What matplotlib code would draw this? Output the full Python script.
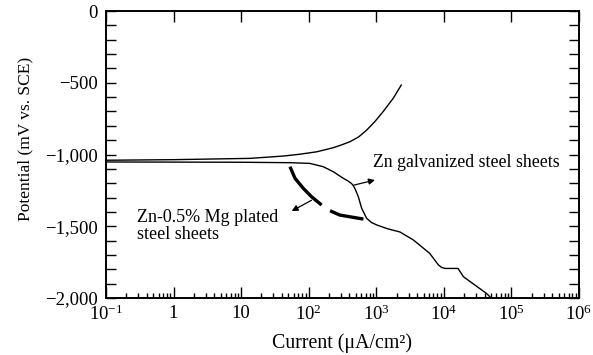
import matplotlib
matplotlib.use("Agg")
import matplotlib.pyplot as plt
from matplotlib.ticker import LogLocator, MultipleLocator, FixedLocator, NullFormatter
import numpy as np

plt.rcParams['font.family'] = ['Liberation Serif', 'DejaVu Serif']
plt.rcParams['mathtext.fontset'] = 'custom'
plt.rcParams['mathtext.rm'] = 'Liberation Serif'
plt.rcParams['mathtext.it'] = 'Liberation Serif:italic'

# Zn galvanized steel sheets - anodic branch (current in uA/cm2, potential in mV vs SCE)
galv_anodic_current = [0.1, 1, 3.2, 13.5, 41.7, 74.1, 132, 229, 302, 407, 550, 724, 955,
                       1259, 1514, 1778, 2344]
galv_anodic_potential = [-1040, -1036, -1032, -1027, -1011, -998, -981, -953, -934, -911,
                         -877, -829, -770, -702, -652, -609, -516]

# Zn galvanized steel sheets - cathodic branch
galv_cath_current = [0.1, 10, 52.8, 104, 164, 231, 325, 380, 432, 458, 484, 542, 608, 721,
                     850, 1014, 1480, 2240, 3550, 6170, 8320, 9330, 10500, 16200, 19500,
                     42700, 47900]
galv_cath_potential = [-1052, -1054, -1057, -1062, -1085, -1120, -1166, -1184, -1203, -1218,
                       -1238, -1294, -1375, -1445, -1474, -1491, -1518, -1540, -1596, -1689,
                       -1770, -1788, -1794, -1794, -1852, -1968, -1991]

# Zn-0.5% Mg plated steel sheets - cathodic branch (two segments)
mg_seg1_current = [52.8, 62.7, 83.2, 110, 155]
mg_seg1_potential = [-1085, -1166, -1236, -1294, -1352]
mg_seg2_current = [207, 288, 646]
mg_seg2_potential = [-1392, -1422, -1450]

xtick_values = [0.1, 1, 10, 100, 1000, 1e4, 1e5, 1e6]
xtick_labels = [r'$\mathrm{10^{-1}}$', '1', '10', r'$\mathrm{10^{2}}$', r'$\mathrm{10^{3}}$',
                r'$\mathrm{10^{4}}$', r'$\mathrm{10^{5}}$', r'$\mathrm{10^{6}}$']
ytick_values = [0, -500, -1000, -1500, -2000]
ytick_labels = ['0', '\u2212500', '\u22121,000', '\u22121,500', '\u22122,000']

fig = plt.figure(figsize=(5.93, 3.55), dpi=100)
ax = fig.add_axes([106/593, 1-298/355, 473/593, 287/355])

ax.plot(galv_anodic_current, galv_anodic_potential, color='black', lw=1.0)
ax.plot(galv_cath_current, galv_cath_potential, color='black', lw=1.0)
ax.plot(mg_seg1_current, mg_seg1_potential, color='black', lw=2.4, solid_capstyle='butt')
ax.plot(mg_seg2_current, mg_seg2_potential, color='black', lw=2.4, solid_capstyle='butt')

ax.set_xscale('log')
ax.set_xlim(0.1, 1e6)
ax.set_ylim(-2000, 0)

ax.xaxis.set_major_locator(FixedLocator(xtick_values))
ax.set_xticklabels(xtick_labels)
ax.xaxis.set_minor_locator(LogLocator(base=10, subs=np.arange(2, 10)))
ax.xaxis.set_minor_formatter(NullFormatter())
ax.yaxis.set_major_locator(FixedLocator(ytick_values))
ax.set_yticklabels(ytick_labels)
ax.yaxis.set_minor_locator(MultipleLocator(100))

ax.tick_params(axis='both', which='both', direction='in', labelsize=13.5, width=1.0)
ax.tick_params(axis='x', which='major', length=8, pad=5, top=True)
ax.tick_params(axis='x', which='minor', length=3.5, top=False)
ax.tick_params(axis='y', which='major', length=7, pad=6, right=True)
ax.tick_params(axis='y', which='minor', length=7, right=True)
for s in ax.spines.values():
    s.set_linewidth(1.4)

ax.set_xlabel('Current (\u03bcA/cm\u00b2)', fontsize=14.3)
ax.xaxis.set_label_coords((342.5 - 106) / 473, (298 - 343) / 287)
ax.set_ylabel('Potential (mV vs. SCE)', fontsize=12.5)
ax.yaxis.set_label_coords((25 - 106) / 473, (298 - 139) / 287)
ax.xaxis.label.set_va('center')
ax.yaxis.label.set_va('center')

ax.text(891, -1059, 'Zn galvanized steel sheets', fontsize=12.8, va='center', ha='left')
ax.text(0.29, -1499, 'Zn-0.5% Mg plated\nsteel sheets', fontsize=13, va='center', ha='left',
        linespacing=1.0)

ax.annotate('', xy=(955, -1178), xytext=(468, -1213),
            arrowprops=dict(arrowstyle='-|>', color='black', lw=0.9, mutation_scale=9,
                            shrinkA=0, shrinkB=0))
ax.annotate('', xy=(56, -1394), xytext=(110, -1319),
            arrowprops=dict(arrowstyle='-|>', color='black', lw=0.9, mutation_scale=9,
                            shrinkA=0, shrinkB=0))

fig.savefig('out.png', dpi=100)
